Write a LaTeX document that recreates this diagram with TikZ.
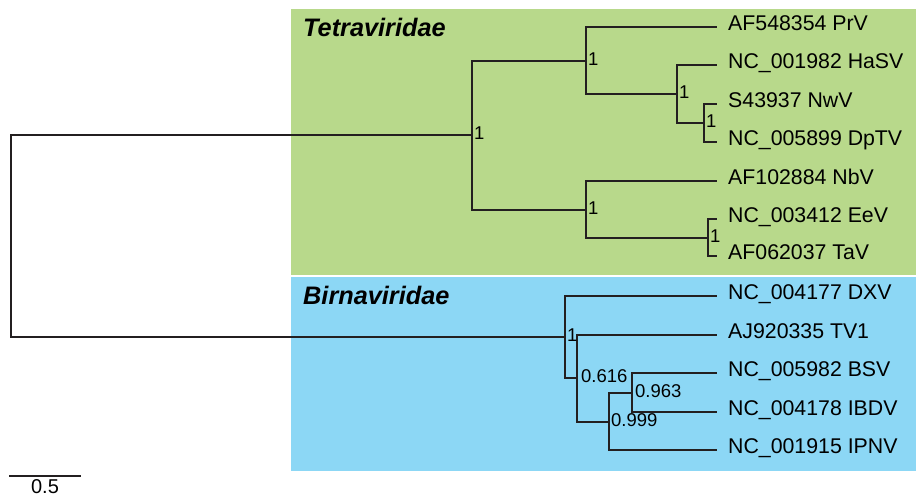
\documentclass[tikz,border=0pt]{standalone}
\usepackage{fontspec}
\setmainfont{Liberation Sans}
\definecolor{tetragreen}{HTML}{B8D98B}
\definecolor{birnablue}{HTML}{8CD7F5}
\definecolor{branchgrey}{HTML}{231F20}
\begin{document}
\begin{tikzpicture}[x=1pt,y=-1pt,
  branch/.style={draw=branchgrey,line width=2.2pt,line cap=rect},
  leaf/.style={anchor=west,inner xsep=12pt,inner ysep=0pt,text height=0.72em,text depth=0pt,
    font=\fontsize{21.3}{24}\selectfont,text=black},
  support/.style={anchor=west,inner sep=0pt,text height=0.72em,text depth=0pt,yshift=-1pt,
    font=\fontsize{18.5}{21}\selectfont,text=black},
  family/.style={anchor=west,inner sep=0pt,font=\fontsize{25.3}{28}\selectfont\bfseries\itshape,text=black}]
\useasboundingbox (0,0) rectangle (916,499);

% clade backgrounds
\fill[tetragreen] (291,9) rectangle (916,275);
\fill[birnablue] (291,277) rectangle (916,471);
\node[family] (lblT) at (303,27) {Tetraviridae};
\node[family] (lblB) at (303,295) {Birnaviridae};

% internal nodes
\coordinate (root) at (11,236);
\coordinate (T)  at (472,135);
\coordinate (T1) at (586,61);
\coordinate (T3) at (677,94);
\coordinate (T4) at (704,123);
\coordinate (T2) at (586,210);
\coordinate (T5) at (708,238);
\coordinate (B)  at (565,337);
\coordinate (C)  at (577,378);
\coordinate (D)  at (609,422);
\coordinate (E)  at (632,393);

% leaves
\node[leaf] (PrV)  at (716,27)  {AF548354 PrV};
\node[leaf] (HaSV) at (716,65)  {NC\_001982 HaSV};
\node[leaf] (NwV)  at (716,104) {S43937 NwV};
\node[leaf] (DpTV) at (716,142) {NC\_005899 DpTV};
\node[leaf] (NbV)  at (716,181) {AF102884 NbV};
\node[leaf] (EeV)  at (716,219) {NC\_003412 EeV};
\node[leaf] (TaV)  at (716,256) {AF062037 TaV};
\node[leaf] (DXV)  at (716,296) {NC\_004177 DXV};
\node[leaf] (TV1)  at (716,335) {AJ920335 TV1};
\node[leaf] (BSV)  at (716,373) {NC\_005982 BSV};
\node[leaf] (IBDV) at (716,412) {NC\_004178 IBDV};
\node[leaf] (IPNV) at (716,450) {NC\_001915 IPNV};

% branches
\draw[branch] (T) |- (root |- T) -- (root) |- (B);
\draw[branch] (T) |- (T1); \draw[branch] (T) |- (T2);
\draw[branch] (T1) |- (PrV.west); \draw[branch] (T1) |- (T3);
\draw[branch] (T3) |- (HaSV.west); \draw[branch] (T3) |- (T4);
\draw[branch] (T4) |- (NwV.west); \draw[branch] (T4) |- (DpTV.west);
\draw[branch] (T2) |- (NbV.west); \draw[branch] (T2) |- (T5);
\draw[branch] (T5) |- (EeV.west); \draw[branch] (T5) |- (TaV.west);
\draw[branch] (B) |- (DXV.west); \draw[branch] (B) |- (C);
\draw[branch] (C) |- (TV1.west); \draw[branch] (C) |- (D);
\draw[branch] (D) |- (E); \draw[branch] (D) |- (IPNV.west);
\draw[branch] (E) |- (BSV.west); \draw[branch] (E) |- (IBDV.west);

% support values
\node[support] (sT)  at ([xshift=2pt]T)  {1};
\node[support] (sT1) at ([xshift=2pt]T1) {1};
\node[support] (sT3) at ([xshift=2pt]T3) {1};
\node[support] (sT4) at ([xshift=2pt]T4) {1};
\node[support] (sT2) at ([xshift=2pt]T2) {1};
\node[support] (sT5) at ([xshift=2pt]T5) {1};
\node[support] (sB)  at ([xshift=2pt]B)  {1};
\node[support] (sC)  at ([xshift=4pt]C)  {0.616};
\node[support] (sD)  at ([xshift=2pt]D) {0.999};
\node[support] (sE)  at ([xshift=3pt]E) {0.963};

% scale bar
\coordinate (sb0) at (9,476);
\coordinate (sb1) at (81,476);
\draw[branch,line cap=butt] (sb0) -- (sb1);
\node[anchor=center,inner sep=0pt,text height=0.72em,text depth=0pt,font=\fontsize{20}{22}\selectfont] (sbl) at (45,490) {0.5};
\end{tikzpicture}
\end{document}
